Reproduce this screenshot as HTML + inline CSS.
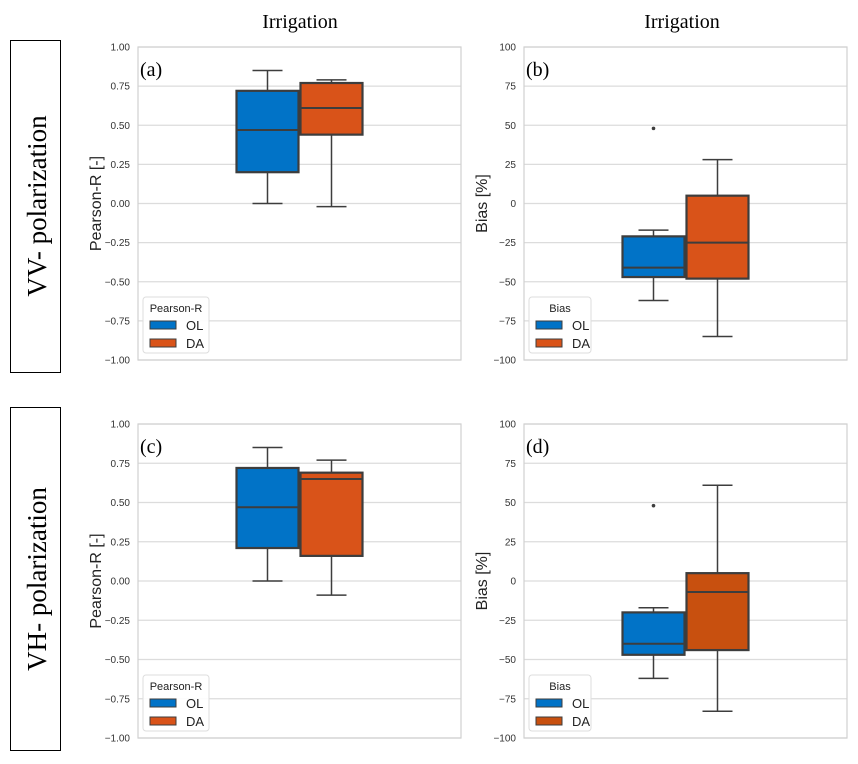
<!DOCTYPE html>
<html><head><meta charset="utf-8"><style>
body{margin:0;background:#fff;}
svg text{font-family:"Liberation Sans",sans-serif;}
.serif{font-family:"Liberation Serif",serif !important;}
</style></head><body>
<svg id="fig" width="858" height="759" xmlns="http://www.w3.org/2000/svg">
<rect x="10.5" y="40.5" width="50" height="332" fill="none" stroke="#000"/>
<text class="serif" transform="translate(46,206) rotate(-90)" text-anchor="middle" font-size="27">VV- polarization</text>
<rect x="10.5" y="407.5" width="50" height="343" fill="none" stroke="#000"/>
<text class="serif" transform="translate(46,579) rotate(-90)" text-anchor="middle" font-size="27">VH- polarization</text>
<text class="serif" x="300" y="28" text-anchor="middle" font-size="20">Irrigation</text>
<text class="serif" x="682" y="28" text-anchor="middle" font-size="20">Irrigation</text>
</svg>
<script>
const panelLetters = ["(a)","(b)","(c)","(d)"];
const seriesNames = ["OL","DA"];
const rTicks = [1.00,0.75,0.50,0.25,0.00,-0.25,-0.50,-0.75,-1.00];
const biasTicks = [100,75,50,25,0,-25,-50,-75,-100];
// [whiskerLow, q1, median, q3, whiskerHigh]
const aOL = [0.00,0.20,0.47,0.72,0.85];
const aDA = [-0.02,0.44,0.61,0.77,0.79];
const bOL = [-62,-47,-41,-21,-17];
const bDA = [-85,-48,-25,5,28];
const cOL = [0.00,0.21,0.47,0.72,0.85];
const cDA = [-0.09,0.16,0.65,0.69,0.77];
const dOL = [-62,-47,-40,-20,-17];
const dDA = [-83,-44,-7,5,61];
const bOutliers = [48];
const dOutliers = [48];

const svg=document.getElementById('fig');
const NS='http://www.w3.org/2000/svg';
function mk(tag,attrs,parent){const e=document.createElementNS(NS,tag);for(const k in attrs)e.setAttribute(k,attrs[k]);(parent||svg).appendChild(e);return e;}

const panels=[
 {x0:138,x1:461,y0:47,y1:360,ticks:rTicks,fmt:v=>v.toFixed(2).replace('-','\u2212'),ylab:'Pearson-R [-]',leg:'Pearson-R',ol:aOL,da:aDA,out:[],daCol:'#d95319'},
 {x0:524,x1:847,y0:47,y1:360,ticks:biasTicks,fmt:v=>String(v).replace('-','\u2212'),ylab:'Bias [%]',leg:'Bias',ol:bOL,da:bDA,out:bOutliers,daCol:'#d95319'},
 {x0:138,x1:461,y0:424,y1:738,ticks:rTicks,fmt:v=>v.toFixed(2).replace('-','\u2212'),ylab:'Pearson-R [-]',leg:'Pearson-R',ol:cOL,da:cDA,out:[],daCol:'#d95319'},
 {x0:524,x1:847,y0:424,y1:738,ticks:biasTicks,fmt:v=>String(v).replace('-','\u2212'),ylab:'Bias [%]',leg:'Bias',ol:dOL,da:dDA,out:dOutliers,daCol:'#c8500f'}
];
const olCol='#0173c7', edge='#3d3d3d';
panels.forEach((p,i)=>{
 const g=mk('g',{});
 
 
 const tmax=p.ticks[0],tmin=p.ticks[p.ticks.length-1];
 const y=v=>p.y1-(v-tmin)/(tmax-tmin)*(p.y1-p.y0);
 p.ticks.forEach(t=>{
  const gl=mk('line',{x1:p.x0,x2:p.x1,y1:y(t),y2:y(t),stroke:'#dcdcdc','stroke-width':1.2},g);
  
  
  const tl=mk('text',{x:p.x0-8,y:y(t)+3.5,'text-anchor':'end','font-size':10,fill:'#333'},g);
  tl.textContent=p.fmt(t);
  
  
 });
 const fr=mk('rect',{x:p.x0,y:p.y0,width:p.x1-p.x0,height:p.y1-p.y0,fill:'none',stroke:'#d0d0d0','stroke-width':1.2},g);
 
 
 const yl=mk('text',{transform:`translate(${p.x0-37},${(p.y0+p.y1)/2}) rotate(-90)`,'text-anchor':'middle','font-size':16,fill:'#222'},g);
 yl.textContent=p.ylab;
 
 
 const pl=mk('text',{x:p.x0+2,y:p.y0+29,'font-size':20,fill:'#000',class:'serif'},g);
 pl.textContent=panelLetters[i];
 
 
 const cx=(p.x0+p.x1)/2, bw=62;
 [[p.ol,olCol,cx-bw-1],[p.da,p.daCol,cx+1]].forEach(([s,col,bx],k)=>{
  const m=bx+bw/2;
  const bg=mk('g',{},g);
  
  
  mk('line',{x1:m,x2:m,y1:y(s[0]),y2:y(s[1]),stroke:edge,'stroke-width':1.5},bg);
  mk('line',{x1:m,x2:m,y1:y(s[3]),y2:y(s[4]),stroke:edge,'stroke-width':1.5},bg);
  mk('line',{x1:m-15,x2:m+15,y1:y(s[0]),y2:y(s[0]),stroke:edge,'stroke-width':1.5},bg);
  mk('line',{x1:m-15,x2:m+15,y1:y(s[4]),y2:y(s[4]),stroke:edge,'stroke-width':1.5},bg);
  mk('rect',{x:bx,y:y(s[3]),width:bw,height:y(s[1])-y(s[3]),fill:col,stroke:edge,'stroke-width':2.2},bg);
  mk('line',{x1:bx,x2:bx+bw,y1:y(s[2]),y2:y(s[2]),stroke:edge,'stroke-width':2},bg);
 });
 p.out.forEach(v=>{
  const o=mk('circle',{cx:cx-bw/2-1,cy:y(v),r:1.8,fill:edge},g);
  
  
 });
 const lx=p.x0+5, ly=p.y1-63;
 const lg=mk('g',{},g);
 
 
 mk('rect',{x:lx,y:ly,width:p.leg==='Bias'?62:66,height:56,rx:3,fill:'#fff','fill-opacity':0.9,stroke:'#ddd'},lg);
 const lt=mk('text',{x:lx+(p.leg==='Bias'?31:33),y:ly+15,'text-anchor':'middle','font-size':11,fill:'#222'},lg);
 lt.textContent=p.leg;
 [[olCol,'OL'],[p.daCol,'DA']].forEach(([c,n],k)=>{
  const e=mk('g',{},lg);
  
  
  mk('rect',{x:lx+7,y:ly+24+k*18,width:26,height:8,fill:c,stroke:edge,'stroke-width':1},e);
  const t=mk('text',{x:lx+43,y:ly+33+k*18,'font-size':13,fill:'#222'},e);
  t.textContent=n;
 });
});
</script>
</body></html>
